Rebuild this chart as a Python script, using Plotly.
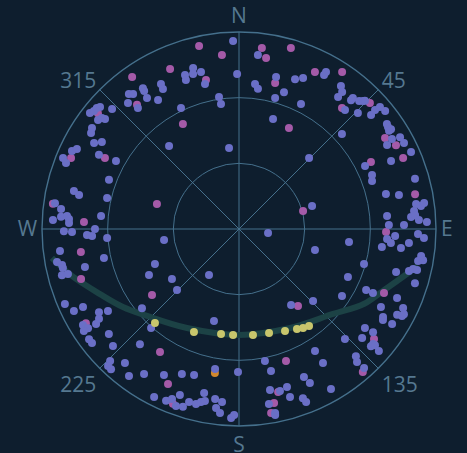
import plotly.graph_objects as go

# ---- data: azimuth (deg, clockwise from N) and zenith distance (deg) ----
blue_az = [325.7, 325.5, 331.7, 331.5, 320.8, 321.9, 318.6, 320.1, 324.9, 327.9, 319.9, 307.9, 309.1, 310.4, 311.3,
           313.4, 307.7, 309.0, 309.4, 304.5, 303.0, 300.7, 302.4, 295.0, 296.3, 292.0, 290.9, 297.9, 298.9, 358.2,
           344.1, 340.7, 340.4, 343.5, 346.4, 346.8, 359.3, 6.3, 7.7, 6.2, 13.7, 20.5, 23.0, 18.2, 15.4,
           26.4, 351.4, 351.8, 334.4, 17.2, 353.0, 28.9, 29.0, 35.5, 37.0, 36.9, 41.0, 41.0, 43.2, 44.1,
           44.5, 41.7, 45.7, 49.2, 48.8, 49.1, 51.1, 54.6, 55.6, 56.7, 56.8, 59.5, 60.3, 62.5, 60.4,
           65.9, 65.9, 47.3, 44.6, 63.4, 67.9, 70.2, 74.1, 76.6, 78.0, 82.8, 82.0, 82.0, 85.0, 86.0,
           84.1, 87.1, 87.9, 85.5, 72.5, 97.9, 88.5, 88.6, 92.6, 93.9, 95.3, 94.7, 97.2, 96.7, 91.6,
           92.8, 96.7, 105.4, 98.4, 100.1, 99.6, 105.6, 105.3, 103.9, 102.9, 103.0, 107.1, 113.8, 115.6, 115.5,
           123.0, 134.2, 113.6, 118.8, 115.7, 118.5, 118.1, 117.3, 121.4, 122.3, 121.8, 128.2, 127.6, 131.5, 130.6,
           131.6, 130.5, 136.1, 131.1, 148.1, 137.4, 138.4, 147.9, 138.0, 155.3, 150.1, 156.3, 145.6, 168.9, 167.3,
           169.1, 165.8, 163.1, 163.1, 159.3, 158.8, 170.3, 168.9, 169.0, 246.7, 243.6, 243.4, 239.3, 238.0, 237.3,
           236.4, 238.4, 236.7, 236.7, 231.1, 233.7, 232.2, 227.1, 230.8, 221.6, 220.7, 224.3, 223.7, 222.4, 220.4,
           216.8, 213.2, 207.2, 206.8, 203.0, 201.5, 199.6, 199.6, 197.5, 196.1, 193.8, 192.4, 191.2, 192.0, 188.0,
           185.6, 187.3, 185.9, 182.4, 181.5, 201.5, 197.1, 189.7, 180.4, 195.2, 290.7, 283.2, 283.0, 282.0, 278.0,
           276.4, 272.8, 273.9, 274.3, 273.4, 272.0, 275.4, 269.3, 269.0, 267.7, 267.3, 270.0, 266.1, 261.7, 263.0,
           257.9, 247.4, 259.7, 258.5, 257.5, 255.4, 255.3, 256.1, 242.9, 233.3, 225.5, 213.1]
blue_zd = [77.9, 76.5, 75.2, 72.8, 79.6, 78.4, 76.7, 72.0, 73.1, 69.6, 49.6, 86.3, 85.4, 85.3, 84.5,
           79.8, 81.4, 80.6, 79.2, 81.5, 80.6, 77.0, 74.2, 84.2, 82.6, 86.7, 84.6, 72.4, 64.2, 85.9,
           76.5, 74.6, 72.3, 73.9, 73.8, 68.0, 70.8, 66.7, 64.6, 80.0, 71.5, 73.1, 74.9, 65.8, 62.1,
           63.7, 61.0, 57.7, 61.3, 52.6, 37.3, 80.4, 82.0, 80.2, 78.3, 75.4, 78.0, 79.3, 80.2, 81.4,
           82.1, 72.8, 75.9, 79.7, 82.6, 85.2, 85.8, 82.9, 82.5, 83.1, 81.9, 81.1, 84.7, 85.0, 77.8,
           86.1, 76.1, 64.0, 45.6, 64.4, 65.6, 64.6, 83.6, 69.0, 74.7, 83.8, 85.4, 81.7, 67.9, 78.8,
           80.4, 82.3, 85.9, 80.7, 35.0, 13.4, 68.5, 75.4, 71.4, 67.8, 69.7, 77.9, 65.8, 74.5, 81.8,
           84.6, 50.6, 36.0, 84.1, 83.1, 85.3, 59.3, 74.4, 80.0, 81.6, 83.5, 84.1, 54.4, 64.4, 67.8,
           56.1, 47.2, 78.8, 74.0, 83.2, 82.2, 84.4, 84.8, 77.1, 77.8, 82.3, 73.2, 77.3, 75.1, 80.7,
           80.6, 81.7, 69.8, 84.8, 65.7, 78.9, 81.2, 72.2, 85.4, 77.5, 84.3, 73.8, 42.1, 61.5, 66.5,
           74.9, 76.3, 75.4, 80.2, 82.6, 84.8, 81.1, 85.7, 86.6, 86.6, 84.2, 79.7, 74.4, 70.6, 76.0,
           78.4, 83.7, 82.5, 84.8, 76.4, 85.0, 85.0, 78.6, 57.2, 60.5, 69.4, 84.3, 86.6, 86.7, 80.4,
           83.9, 79.2, 75.0, 86.0, 85.3, 83.5, 80.5, 85.8, 85.2, 82.3, 82.3, 80.9, 80.1, 76.6, 78.4,
           79.4, 82.5, 84.5, 86.4, 85.0, 71.2, 69.8, 64.9, 65.3, 43.6, 63.5, 61.9, 77.4, 74.7, 84.9,
           81.8, 85.1, 81.5, 78.8, 77.8, 77.7, 63.3, 80.0, 76.3, 69.5, 67.2, 65.8, 60.4, 34.6, 82.4,
           63.1, 41.6, 84.5, 82.5, 82.4, 83.6, 80.8, 72.5, 46.2, 38.2, 39.7, 25.1]

magenta_az = [324.9, 336.7, 347.7, 354.4, 7.2, 9.0, 16.0, 320.6, 309.4, 292.9, 297.9, 347.5, 13.9, 331.9, 26.3,
              25.8, 33.3, 46.1, 40.4, 58.1, 61.9, 66.6, 63.1, 287.0, 277.7, 272.6, 261.7, 252.4, 74.3, 78.8,
              91.2, 113.8, 232.8, 238.4, 212.7, 204.6, 200.7, 142.5, 160.4, 168.6, 170.1, 166.5, 129.2, 139.1]
magenta_zd = [84.9, 79.6, 85.6, 79.9, 83.4, 79.1, 86.0, 73.4, 83.4, 83.3, 69.3, 69.7, 68.7, 54.4, 51.5,
              79.7, 85.8, 83.0, 72.6, 78.6, 81.3, 81.7, 67.6, 39.2, 85.8, 70.9, 73.0, 75.7, 30.4, 82.0,
              67.2, 72.4, 49.9, 82.1, 66.8, 77.9, 85.4, 44.3, 64.0, 81.1, 85.3, 76.6, 79.6, 86.4]

yellow_az = [221.8, 203.6, 189.7, 183.2, 172.5, 163.9, 155.7, 149.9, 147.1, 144.2]
yellow_zd = [57.6, 51.4, 48.7, 48.5, 48.9, 49.5, 51.1, 52.8, 53.9, 54.7]

orange_az = [189.5]
orange_zd = [66.7]

path_az = [261.2, 254.3, 244.9, 236.1, 226.6, 207.7, 180.0, 152.7, 132.1, 121.0, 113.3, 101.7]
path_zd = [86.5, 79.3, 70.1, 63.9, 57.8, 51.1, 48.4, 50.9, 57.9, 66.5, 71.6, 83.5]

tick_vals = [0, 45, 90, 135, 180, 225, 270, 315]
tick_text = ["N", "45", "E", "135", "S", "225", "W", "315"]
radial_ticks = [30, 60, 90]

# ---- style ----
BG = "#0e1e2e"
GRID = "#45708c"
LABEL = "#557890"
MS = 8

fig = go.Figure()
fig.add_trace(go.Scatterpolar(r=path_zd, theta=path_az, mode="lines",
                              line=dict(color="#1c4245", width=6, shape="spline"),
                              hoverinfo="skip"))
fig.add_trace(go.Scatterpolar(r=magenta_zd, theta=magenta_az, mode="markers",
                              marker=dict(color="#a45aa8", size=MS, line=dict(width=0))))
fig.add_trace(go.Scatterpolar(r=orange_zd, theta=orange_az, mode="markers",
                              marker=dict(color="#d2882c", size=MS, line=dict(width=0))))
fig.add_trace(go.Scatterpolar(r=blue_zd, theta=blue_az, mode="markers",
                              marker=dict(color="#6a6fc6", size=MS, line=dict(width=0))))
fig.add_trace(go.Scatterpolar(r=yellow_zd, theta=yellow_az, mode="markers",
                              marker=dict(color="#c8c66c", size=MS, line=dict(width=0))))

fig.update_layout(
    width=467, height=453,
    margin=dict(l=42, r=31, t=32, b=27),
    paper_bgcolor=BG,
    showlegend=False,
    font=dict(family="Open Sans", color=LABEL),
    polar=dict(
        bgcolor=BG,
        domain=dict(x=[0, 1], y=[0, 1]),
        radialaxis=dict(range=[0, 90], tickvals=radial_ticks, showticklabels=False, ticks="",
                        showline=False, gridcolor=GRID, gridwidth=1.2),
        angularaxis=dict(rotation=90, direction="clockwise", tickmode="array",
                         tickvals=tick_vals, ticktext=tick_text, ticks="",
                         showline=True, linecolor=GRID, linewidth=1.4,
                         gridcolor=GRID, gridwidth=1.2,
                         tickfont=dict(size=21, color=LABEL, family="Open Sans")),
    ),
)

fig.write_html(
    "out.html",
    config={"displayModeBar": False},
    post_script="document.body.style.margin='0';document.body.style.background='" + BG + "';"
                "document.body.style.overflow='hidden';",
)
